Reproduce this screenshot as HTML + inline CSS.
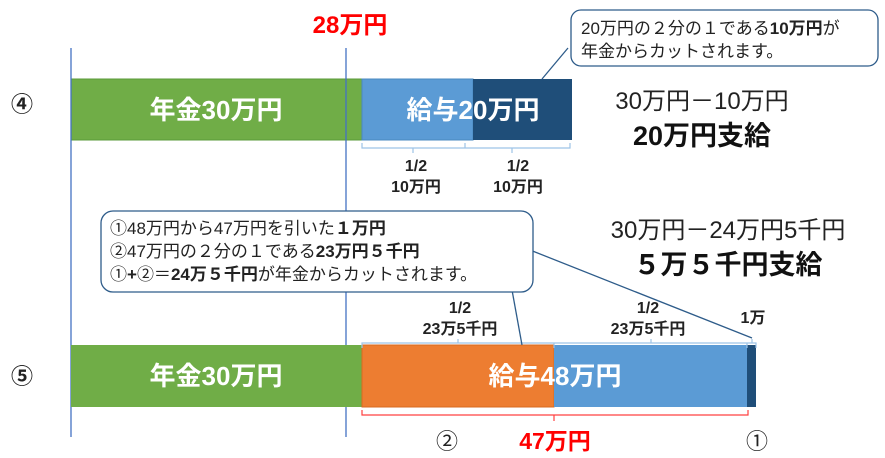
<!DOCTYPE html>
<html><head><meta charset="utf-8"><style>
html,body{margin:0;padding:0;background:#fff;}
svg{display:block;font-family:"Liberation Sans","Noto Sans CJK JP",sans-serif;}
</style></head><body>
<svg width="885" height="458" viewBox="0 0 885 458" xmlns="http://www.w3.org/2000/svg">
<rect x="71" y="79" width="291" height="61" fill="#70ad47" stroke="#5a9a3a"/>
<rect x="362" y="79" width="111" height="61" fill="#5b9bd5" stroke="#4a88c0"/>
<rect x="473" y="79" width="99" height="61" fill="#1f4e79"/>
<text x="216" y="119" font-size="26" font-weight="bold" fill="#fff" text-anchor="middle">年金30万円</text>
<text x="473" y="119" font-size="26" font-weight="bold" fill="#fff" text-anchor="middle">給与20万円</text>
<line x1="71" y1="48" x2="71" y2="437" stroke="#4472c4" stroke-width="1.3"/>
<line x1="346" y1="48" x2="346" y2="437" stroke="#4472c4" stroke-width="1.3"/>
<text x="350" y="33" font-size="24" font-weight="bold" fill="#ff0000" text-anchor="middle">28万円</text>
<text x="22" y="112" font-size="22" font-weight="bold" fill="#222" text-anchor="middle">④</text>
<text x="22" y="384" font-size="22" font-weight="bold" fill="#222" text-anchor="middle">⑤</text>
<path d="M362,143 v5 h103 v-5 M465,148 h105 v-5 M413,148 v5 M512,148 v5" fill="none" stroke="#9dc3e6" stroke-width="1.2"/>
<g font-size="16" font-weight="bold" fill="#222" text-anchor="middle">
<text x="416" y="171">1/2</text><text x="416" y="192">10万円</text>
<text x="518" y="171">1/2</text><text x="518" y="192">10万円</text>
</g>
<text x="702" y="109" font-size="24" fill="#222" text-anchor="middle">30万円－10万円</text>
<text x="702" y="145" font-size="27" font-weight="bold" fill="#111" text-anchor="middle">20万円支給</text>
<line x1="568" y1="48" x2="542" y2="79" stroke="#2e5c8a" stroke-width="1.3"/>
<rect x="571" y="10" width="307" height="56" rx="10" fill="#fff" stroke="#2e5c8a" stroke-width="1.3"/>
<text x="581" y="34" font-size="17" fill="#222">20万円の２分の１である<tspan font-weight="bold">10万円</tspan>が</text>
<text x="581" y="57" font-size="17" fill="#222">年金からカットされます。</text>
<rect x="71" y="345" width="291" height="62" fill="#70ad47"/>
<rect x="362" y="345" width="192" height="62" fill="#ed7d31" stroke="#d86a20"/>
<rect x="554" y="345" width="193" height="62" fill="#5b9bd5"/>
<rect x="747" y="345" width="9" height="62" fill="#1f4e79"/>
<text x="216" y="385" font-size="26" font-weight="bold" fill="#fff" text-anchor="middle">年金30万円</text>
<text x="555" y="385" font-size="26" font-weight="bold" fill="#fff" text-anchor="middle">給与48万円</text>
<path d="M362,348 v-5 h192 v5 M554,343 h193 v5 M747,343 h9 v5 M458,343 v-4 M651,343 v-4 M752,343 v-4" fill="none" stroke="#9dc3e6" stroke-width="1.2"/>
<g font-size="16" font-weight="bold" fill="#222" text-anchor="middle">
<text x="460" y="313">1/2</text><text x="460" y="334">23万5千円</text>
<text x="648" y="313">1/2</text><text x="648" y="334">23万5千円</text>
<text x="753" y="323">1万</text>
</g>
<path d="M362,410 v5 h386 v-5 M554,415 v6" fill="none" stroke="#ff4040" stroke-width="1.2"/>
<text x="447" y="449" font-size="22" fill="#222" text-anchor="middle">②</text>
<text x="555" y="449" font-size="23" font-weight="bold" fill="#ff0000" text-anchor="middle">47万円</text>
<text x="757" y="449" font-size="22" fill="#222" text-anchor="middle">①</text>
<text x="728" y="238" font-size="24" fill="#222" text-anchor="middle">30万円－24万円5千円</text>
<text x="728" y="274" font-size="27" font-weight="bold" fill="#111" text-anchor="middle">５万５千円支給</text>
<line x1="512" y1="290" x2="522" y2="345" stroke="#2e5c8a" stroke-width="1.3"/>
<line x1="530" y1="250" x2="752" y2="338" stroke="#2e5c8a" stroke-width="1.3"/>
<rect x="101" y="211" width="432" height="81" rx="12" fill="#fff" stroke="#2e5c8a" stroke-width="1.3"/>
<g font-size="17" fill="#222">
<text x="110" y="234">①48万円から47万円を引いた<tspan font-weight="bold">１万円</tspan></text>
<text x="110" y="257">②47万円の２分の１である<tspan font-weight="bold">23万円５千円</tspan></text>
<text x="110" y="280">①<tspan font-weight="bold">+</tspan>②＝<tspan font-weight="bold">24万５千円</tspan>が年金からカットされます。</text>
</g>
</svg>
</body></html>
